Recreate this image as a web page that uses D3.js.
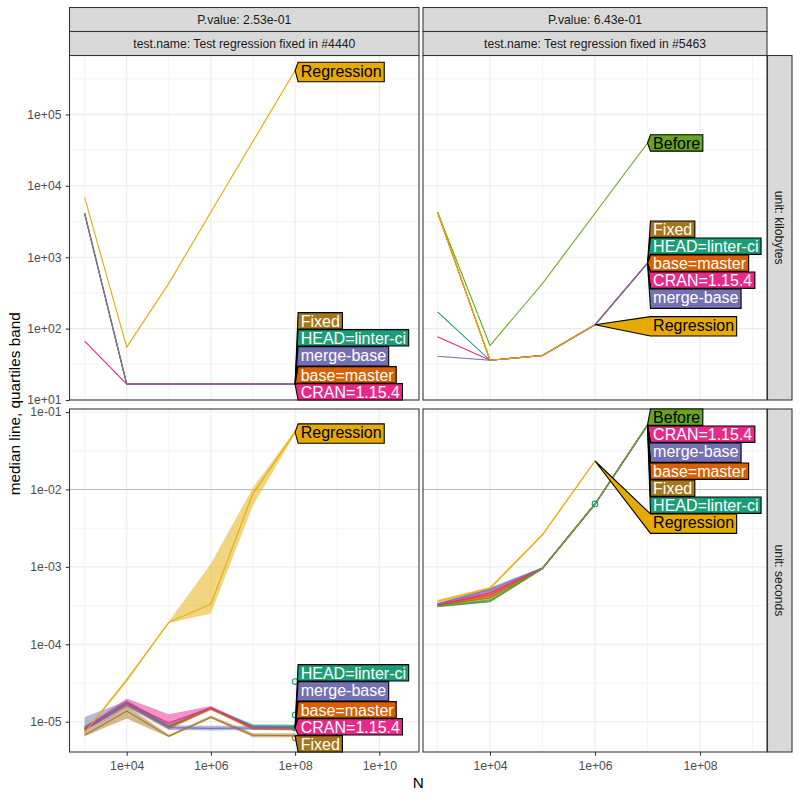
<!DOCTYPE html>
<html><head><meta charset="utf-8">
<script src="https://cdn.jsdelivr.net/npm/d3@7"></script>
<style>body{margin:0;background:#fff} svg{display:block}</style>
</head><body>
<svg id="chart" width="800" height="800"></svg>
<script>
// ---------------- data ----------------
const seriesNames  = ["Before","Regression","Fixed","HEAD=linter-ci","base=master","merge-base","CRAN=1.15.4"];
const seriesColors = ["#66A61E","#E6AB02","#A6761D","#1B9E77","#D95F02","#7570B3","#E7298A"];
const seriesTextColors = ["#000000","#000000","#FFFFFF","#FFFFFF","#FFFFFF","#FFFFFF","#FFFFFF"];
const drawOrder = ["Fixed","HEAD=linter-ci","base=master","CRAN=1.15.4","merge-base","Before","Regression"];

const testNames = ["Test regression fixed in #4440","Test regression fixed in #5463"];
const pValues   = ["2.53e-01","6.43e-01"];
const units     = ["kilobytes","seconds"];

const sizes4440 = [1e3, 1e4, 1e5, 1e6, 1e7, 1e8];
const sizes5463 = [1e3, 1e4, 1e5, 1e6, 1e7];

// kilobytes (median), rows follow seriesNames; null = series absent
const kb4440 = [
  null,
  [6900, 55, 430, 4300, 42000, 412000],
  [4100, 16.7, 16.7, 16.7, 16.7, 16.7],
  [4100, 16.7, 16.7, 16.7, 16.7, 16.7],
  [4100, 16.7, 16.7, 16.7, 16.7, 16.7],
  [4100, 16.7, 16.7, 16.7, 16.7, 16.7],
  [67, 16.7, 16.7, 16.7, 16.7, 16.7]
];
const kb5463 = [
  [4300, 58, 428, 4130, 39800],
  [4300, 36, 42, 113],
  [4300, 36, 42, 113, 824],
  [172, 36, 42, 113, 824],
  [4300, 36, 42, 113, 824],
  [41, 36, 42, 113, 824],
  [77, 36, 42, 113, 824]
];

// seconds: median, first quartile, third quartile
const sec4440Median = [
  null,
  [7.2e-6, 3.45e-5, 1.92e-4, 3.3e-4, 8.9e-3, 5.5e-2],
  [6.7e-6, 1.37e-5, 6.5e-6, 1.14e-5, 6.7e-6, 6.6e-6],
  [8.0e-6, 1.75e-5, 8.6e-6, 1.5e-5, 8.8e-6, 8.7e-6],
  [8.1e-6, 1.7e-5, 8.4e-6, 1.48e-5, 8.1e-6, 8.0e-6],
  [8.6e-6, 1.7e-5, 8.4e-6, 8.2e-6, 8.3e-6, 8.3e-6],
  [8.0e-6, 1.75e-5, 9.6e-6, 1.52e-5, 8.4e-6, 8.4e-6]
];
const sec4440Q1 = [
  null,
  [6.9e-6, 3.25e-5, 1.88e-4, 2.5e-4, 6.2e-3, 5.2e-2],
  [6.5e-6, 1.1e-5, 6.3e-6, 1.1e-5, 6.3e-6, 6.3e-6],
  [7.6e-6, 1.6e-5, 8.2e-6, 1.42e-5, 8.3e-6, 8.2e-6],
  [7.7e-6, 1.6e-5, 8.0e-6, 1.42e-5, 7.8e-6, 7.7e-6],
  [7.0e-6, 1.55e-5, 7.8e-6, 7.7e-6, 7.8e-6, 7.8e-6],
  [7.6e-6, 1.6e-5, 8.4e-6, 1.45e-5, 8.0e-6, 8.0e-6]
];
const sec4440Q3 = [
  null,
  [7.5e-6, 3.65e-5, 1.97e-4, 1.1e-3, 1.06e-2, 5.8e-2],
  [7.0e-6, 1.6e-5, 6.8e-6, 1.2e-5, 7.1e-6, 7.1e-6],
  [8.5e-6, 1.9e-5, 9.2e-6, 1.55e-5, 9.3e-6, 9.2e-6],
  [8.6e-6, 1.85e-5, 9.0e-6, 1.53e-5, 8.6e-6, 8.5e-6],
  [1.15e-5, 1.85e-5, 9.0e-6, 8.9e-6, 8.9e-6, 8.9e-6],
  [8.6e-6, 2.0e-5, 1.25e-5, 1.6e-5, 8.8e-6, 8.8e-6]
];
const sec5463Median = [
  [3.1e-4, 3.6e-4, 9.5e-4, 6.5e-3, 6.8e-2],
  [3.6e-4, 5.3e-4, 2.6e-3, 2.33e-2],
  [3.2e-4, 4.0e-4, 9.6e-4, 6.5e-3, 6.8e-2],
  [3.1e-4, 3.6e-4, 9.5e-4, 6.4e-3, 6.7e-2],
  [3.2e-4, 4.3e-4, 9.6e-4, 6.5e-3, 6.8e-2],
  [3.3e-4, 5.1e-4, 9.7e-4, 6.5e-3, 6.8e-2],
  [3.2e-4, 4.6e-4, 9.6e-4, 6.5e-3, 6.8e-2]
];
const sec5463Q1 = [
  [3.0e-4, 3.5e-4, 9.3e-4, 6.3e-3, 6.6e-2],
  [3.4e-4, 5.1e-4, 2.5e-3, 2.25e-2],
  [3.1e-4, 3.7e-4, 9.3e-4, 6.3e-3, 6.6e-2],
  [3.0e-4, 3.5e-4, 9.3e-4, 6.2e-3, 6.5e-2],
  [3.1e-4, 3.9e-4, 9.3e-4, 6.3e-3, 6.6e-2],
  [3.2e-4, 4.7e-4, 9.4e-4, 6.3e-3, 6.6e-2],
  [3.1e-4, 4.3e-4, 9.3e-4, 6.3e-3, 6.6e-2]
];
const sec5463Q3 = [
  [3.2e-4, 3.8e-4, 9.7e-4, 6.7e-3, 7.0e-2],
  [3.75e-4, 5.5e-4, 2.7e-3, 2.4e-2],
  [3.35e-4, 4.4e-4, 9.8e-4, 6.7e-3, 7.0e-2],
  [3.2e-4, 3.8e-4, 9.7e-4, 6.6e-3, 6.9e-2],
  [3.35e-4, 4.7e-4, 9.8e-4, 6.7e-3, 7.0e-2],
  [3.45e-4, 5.4e-4, 9.9e-4, 6.7e-3, 7.0e-2],
  [3.35e-4, 5.0e-4, 9.8e-4, 6.7e-3, 7.0e-2]
];
// individual timings drawn as open circles: [series, N, seconds]
const sec4440Points = [["HEAD=linter-ci",1e8,3.3e-5],["HEAD=linter-ci",1e8,1.22e-5],["HEAD=linter-ci",1e8,8.3e-6],["Fixed",1e8,6.2e-6]];
const sec5463Points = [["HEAD=linter-ci",1e6,6.5e-3]];

// direct-label stacking order (top to bottom)
const labelOrderKb4440  = ["Regression","Fixed","HEAD=linter-ci","merge-base","base=master","CRAN=1.15.4"];
const labelOrderKb5463  = ["Before","Fixed","HEAD=linter-ci","base=master","CRAN=1.15.4","merge-base","Regression"];
const labelOrderSec4440 = ["Regression","HEAD=linter-ci","merge-base","base=master","CRAN=1.15.4","Fixed"];
const labelOrderSec5463 = ["Before","CRAN=1.15.4","merge-base","base=master","Fixed","HEAD=linter-ci","Regression"];

const xTickValues = [[1e4,1e6,1e8,1e10],[1e4,1e6,1e8]];
const xTickLabels = [["1e+04","1e+06","1e+08","1e+10"],["1e+04","1e+06","1e+08"]];
const yTickValues = [[1e1,1e2,1e3,1e4,1e5],[1e-5,1e-4,1e-3,1e-2,1e-1]];
const yTickLabels = [["1e+01","1e+02","1e+03","1e+04","1e+05"],["1e-05","1e-04","1e-03","1e-02","1e-01"]];
const refLineSeconds = 1e-2;

// ---------------- layout ----------------
const FONT = "'Liberation Sans', Arial, Helvetica, sans-serif";
const colLayout = [
  {range:[69.5,419], lo:2.641, hi:10.943},
  {range:[423,767],  lo:2.724, hi:9.276}
];
const rowLayout = [
  {range:[400,55.5], lo:1.0,    hi:5.825},
  {range:[752,409],  lo:-5.391, hi:-0.961}
];
const xScales = colLayout.map(c => d3.scaleLog().domain([10**c.lo, 10**c.hi]).range(c.range));
const yScales = rowLayout.map(r => d3.scaleLog().domain([10**r.lo, 10**r.hi]).range(r.range));

const svg = d3.select("#chart");
svg.append("rect").attr("width",800).attr("height",800).attr("fill","#fff");

const panels = [
  {col:0,row:0,sizes:sizes4440,med:kb4440,lo:null,hi:null,order:labelOrderKb4440,points:[]},
  {col:1,row:0,sizes:sizes5463,med:kb5463,lo:null,hi:null,order:labelOrderKb5463,points:[]},
  {col:0,row:1,sizes:sizes4440,med:sec4440Median,lo:sec4440Q1,hi:sec4440Q3,order:labelOrderSec4440,points:sec4440Points},
  {col:1,row:1,sizes:sizes5463,med:sec5463Median,lo:sec5463Q1,hi:sec5463Q3,order:labelOrderSec5463,points:sec5463Points}
];

const sIdx = name => seriesNames.indexOf(name);

// text metrics
const mctx = document.createElement("canvas").getContext("2d");
const LBL_SIZE = 16;
mctx.font = `${LBL_SIZE}px ${FONT}`;
const capH = mctx.measureText("H").actualBoundingBoxAscent;

function pava(v){
  const blocks=[];
  for(const x of v){
    blocks.push({s:x,n:1});
    while(blocks.length>1){
      const a=blocks[blocks.length-2], b=blocks[blocks.length-1];
      if(a.s/a.n > b.s/b.n){ a.s+=b.s; a.n+=b.n; blocks.pop(); } else break;
    }
  }
  const out=[]; blocks.forEach(b=>{for(let i=0;i<b.n;i++) out.push(b.s/b.n);});
  return out;
}

const labelLayer = [];

panels.forEach((p,pi) => {
  const x = xScales[p.col], y = yScales[p.row];
  const [x0,x1] = colLayout[p.col].range;
  const [y1,y0] = rowLayout[p.row].range;
  const g = svg.append("g");
  const clipId = "clip"+pi;
  svg.append("clipPath").attr("id",clipId).append("rect")
    .attr("x",x0).attr("y",y0).attr("width",x1-x0).attr("height",y1-y0);

  // grid
  const lx = colLayout[p.col], ly = rowLayout[p.row];
  const minorX=[], minorY=[], majorX=xTickValues[p.col], majorY=yTickValues[p.row];
  for(let k=Math.ceil(lx.lo);k<=lx.hi;k++) if(!majorX.includes(10**k)) minorX.push(10**k);
  for(let k=Math.ceil(ly.lo-0.5);k+0.5<=ly.hi;k++) if(k+0.5>=ly.lo) minorY.push(10**(k+0.5));
  const grid = g.append("g");
  minorX.forEach(v=>grid.append("line").attr("x1",x(v)).attr("x2",x(v)).attr("y1",y0).attr("y2",y1).attr("stroke","#EBEBEB").attr("stroke-width",0.55));
  minorY.forEach(v=>grid.append("line").attr("y1",y(v)).attr("y2",y(v)).attr("x1",x0).attr("x2",x1).attr("stroke","#EBEBEB").attr("stroke-width",0.55));
  majorX.forEach(v=>grid.append("line").attr("x1",x(v)).attr("x2",x(v)).attr("y1",y0).attr("y2",y1).attr("stroke","#EBEBEB").attr("stroke-width",1.07));
  majorY.forEach(v=>grid.append("line").attr("y1",y(v)).attr("y2",y(v)).attr("x1",x0).attr("x2",x1).attr("stroke","#EBEBEB").attr("stroke-width",1.07));

  const data = g.append("g").attr("clip-path",`url(#${clipId})`);
  if(p.row===1){
    data.append("line").attr("x1",x0).attr("x2",x1).attr("y1",y(refLineSeconds)).attr("y2",y(refLineSeconds))
      .attr("stroke","#BEBEBE").attr("stroke-width",1.1);
  }
  // ribbons
  if(p.lo){
    drawOrder.forEach(name=>{
      const i=sIdx(name); if(!p.med[i]) return;
      const pts = p.med[i].map((m,j)=>({n:p.sizes[j], lo:p.lo[i][j], hi:p.hi[i][j]}));
      data.append("path").datum(pts)
        .attr("d", d3.area().x(d=>x(d.n)).y0(d=>y(d.lo)).y1(d=>y(d.hi)))
        .attr("fill", seriesColors[i]).attr("fill-opacity",0.5).attr("stroke","none");
    });
  }
  // lines
  drawOrder.forEach(name=>{
    const i=sIdx(name); if(!p.med[i]) return;
    const pts = p.med[i].map((m,j)=>({n:p.sizes[j], v:m}));
    data.append("path").datum(pts)
      .attr("d", d3.line().x(d=>x(d.n)).y(d=>y(d.v)))
      .attr("fill","none").attr("stroke",seriesColors[i]).attr("stroke-width",1.1);
  });
  // points
  p.points.forEach(([name,n,v])=>{
    data.append("circle").attr("cx",x(n)).attr("cy",y(v)).attr("r",2.8)
      .attr("fill","none").attr("stroke",seriesColors[sIdx(name)]).attr("stroke-width",1.1);
  });

  // border
  g.append("rect").attr("x",x0).attr("y",y0).attr("width",x1-x0).attr("height",y1-y0)
    .attr("fill","none").attr("stroke","#333333").attr("stroke-width",1.07);

  // direct labels: solve stacking (isotonic least squares)
  const padX=2.6, padY=2.2, gap=0.6;
  const labs = p.order.map(name=>{
    const i=sIdx(name); const vals=p.med[i]; const last=vals.length-1;
    const m = mctx.measureText(name);
    const asc = m.actualBoundingBoxAscent, desc = Math.max(0,m.actualBoundingBoxDescent);
    return {name, i, tipX:x(p.sizes[last]), tipY:y(vals[last]), target:y(vals[last]),
      w:m.width, a: capH/2 - asc - padY, b: capH/2 + desc + padY};
  });
  const cum=[0];
  for(let k=1;k<labs.length;k++) cum.push(cum[k-1] + labs[k-1].b - labs[k].a + gap);
  let z = pava(labs.map((l,k)=>l.target - cum[k]));
  const zMin = y0 - labs[0].a, zMax = y1 - labs[labs.length-1].b - cum[labs.length-1];
  z = z.map(v=>Math.max(zMin, Math.min(zMax, v)));
  const boxLeft = x(p.sizes[p.sizes.length-1]) + 3;
  labs.forEach((l,k)=>{
    const pos = z[k] + cum[k];
    labelLayer.push({...l, pos, boxLeft});
  });
});

// axes
panels.filter(p=>p.col===0).forEach(p=>{
  const [x0] = colLayout[0].range;
  const ax = svg.append("g").attr("transform",`translate(${x0},0)`)
    .call(d3.axisLeft(yScales[p.row]).tickValues(yTickValues[p.row])
      .tickFormat((d,i)=>yTickLabels[p.row][i]).tickSize(3.7).tickPadding(4.3).tickSizeOuter(0));
  ax.select(".domain").remove();
  ax.selectAll(".tick line").attr("stroke","#333333").attr("stroke-width",1.07);
  ax.selectAll(".tick text").attr("fill","#4D4D4D").style("font-family",FONT).style("font-size","12.2px");
});
panels.filter(p=>p.row===1).forEach(p=>{
  const [,y1] = [0, rowLayout[1].range[0]];
  const ax = svg.append("g").attr("transform",`translate(0,${rowLayout[1].range[0]})`)
    .call(d3.axisBottom(xScales[p.col]).tickValues(xTickValues[p.col])
      .tickFormat((d,i)=>xTickLabels[p.col][i]).tickSize(3.7).tickPadding(5.2).tickSizeOuter(0));
  ax.select(".domain").remove();
  ax.selectAll(".tick line").attr("stroke","#333333").attr("stroke-width",1.07);
  ax.selectAll(".tick text").attr("fill","#4D4D4D").style("font-family",FONT).style("font-size","12.2px");
});

// strips (top)
colLayout.forEach((c,ci)=>{
  const [x0,x1]=c.range;
  const rows=[[7.5,31.5,"P.value: "+pValues[ci]],[31.5,55.5,"test.name: "+testNames[ci]]];
  rows.forEach(([a,b,t])=>{
    svg.append("rect").attr("x",x0).attr("y",a).attr("width",x1-x0).attr("height",b-a)
      .attr("fill","#D9D9D9").attr("stroke","#333333").attr("stroke-width",1.07);
    svg.append("text").attr("x",(x0+x1)/2).attr("y",(a+b)/2).attr("dy","0.35em")
      .attr("text-anchor","middle").attr("fill","#1A1A1A").style("font-family",FONT).style("font-size","12.2px").text(t);
  });
});
// strips (right)
rowLayout.forEach((r,ri)=>{
  const [y1,y0]=r.range;
  svg.append("rect").attr("x",767.5).attr("y",y0).attr("width",24.5).attr("height",y1-y0)
    .attr("fill","#D9D9D9").attr("stroke","#333333").attr("stroke-width",1.07);
  svg.append("text").attr("transform",`translate(${767.5+12.25},${(y0+y1)/2}) rotate(90)`)
    .attr("dy","0.35em").attr("text-anchor","middle").attr("fill","#1A1A1A")
    .style("font-family",FONT).style("font-size","12.2px").text("unit: "+units[ri]);
});

// axis titles
svg.append("text").attr("x",(colLayout[0].range[0]+colLayout[1].range[1])/2).attr("y",788)
  .attr("text-anchor","middle").style("font-family",FONT).style("font-size","15.3px").text("N");
svg.append("text").attr("transform",`translate(15,${(rowLayout[0].range[1]+rowLayout[1].range[0])/2}) rotate(-90)`)
  .attr("dy","0.35em").attr("text-anchor","middle").style("font-family",FONT).style("font-size","15.3px")
  .text("median line, quartiles band");

// labels on top
const lg = svg.append("g");
labelLayer.forEach(l=>{
  const top=l.pos+l.a, bot=l.pos+l.b, left=l.boxLeft, right=l.boxLeft+l.w+2*2.6;
  lg.append("polygon")
    .attr("points",[[l.tipX,l.tipY],[left,top],[right,top],[right,bot],[left,bot]].map(q=>q.join(",")).join(" "))
    .attr("fill",seriesColors[l.i]).attr("stroke","#000").attr("stroke-width",1.1).attr("stroke-linejoin","miter");
  lg.append("text").attr("x",left+2.6).attr("y",l.pos+capH/2)
    .attr("fill",seriesTextColors[l.i]).style("font-family",FONT).style("font-size",LBL_SIZE+"px").text(l.name);
});
</script>
</body></html>
